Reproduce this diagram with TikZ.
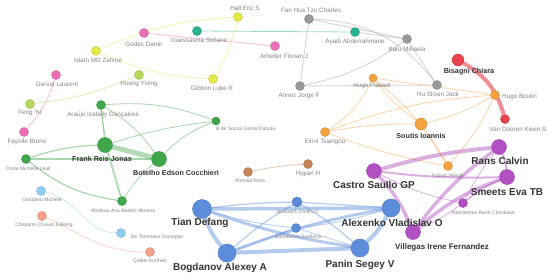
\documentclass[tikz,border=0pt]{standalone}
\usepackage{fontspec}
\setmainfont{Liberation Sans}
\usetikzlibrary{backgrounds}
\definecolor{cblue}{HTML}{5B8DDB}
\definecolor{cpurple}{HTML}{B24FC2}
\definecolor{cgreen}{HTML}{3FA64A}
\definecolor{corange}{HTML}{F6A23F}
\definecolor{cred}{HTML}{E9424C}
\definecolor{cgray}{HTML}{9A9A9A}
\definecolor{cteal}{HTML}{26B38E}
\definecolor{cyellow}{HTML}{E4EA48}
\definecolor{cygreen}{HTML}{B3D95A}
\definecolor{cpink}{HTML}{EE6DB8}
\definecolor{clblue}{HTML}{8DCFF2}
\definecolor{csalmon}{HTML}{F5A088}
\definecolor{cbrown}{HTML}{C6865A}
\definecolor{labgray}{HTML}{858585}
\definecolor{dark}{HTML}{333333}
\begin{document}
\begin{tikzpicture}[x=1pt,y=1pt,
  nd/.style={circle,inner sep=0pt,fill=#1,draw=#1!85!black,line width=0.4pt},
  lb/.style={text=labgray,font=\fontsize{6.3}{7}\selectfont,inner sep=0pt},
  lbs/.style={text=labgray,font=\fontsize{5}{6}\selectfont,inner sep=0pt},
  lbb/.style={text=dark,font=\fontsize{7.2}{8}\selectfont\bfseries,inner sep=0pt},
  lbl/.style={text=dark,font=\fontsize{10}{11}\selectfont\bfseries,inner sep=0pt},
  lbm/.style={text=dark,font=\fontsize{8}{9}\selectfont\bfseries,inner sep=0pt},
  ed/.style={draw=#1,draw opacity=0.45,line width=0.8pt},
]
\useasboundingbox (0,0) rectangle (550,-279);
% ---- nodes ----
\node[nd=cyellow,minimum size=9] (hall) at (238,-17) {};
\node[nd=cpink,minimum size=9] (godec) at (144,-33) {};
\node[nd=cteal,minimum size=9] (oues) at (197,-31) {};
\node[nd=cpink,minimum size=9] (arb) at (275,-46) {};
\node[nd=cyellow,minimum size=9] (islam) at (96,-51) {};
\node[nd=cpink,minimum size=9] (gervat) at (56,-75) {};
\node[nd=cygreen,minimum size=9] (huang) at (139,-75) {};
\node[nd=cyellow,minimum size=9] (gibbon) at (213,-79) {};
\node[nd=cygreen,minimum size=9] (feng) at (30,-104) {};
\node[nd=cgreen,minimum size=9] (araujo) at (101,-105) {};
\node[nd=cgreen,minimum size=8] (desouza) at (216,-121) {};
\node[nd=cpink,minimum size=9] (fayolle) at (24,-132) {};
\node[nd=cgray,minimum size=9] (fan) at (309,-19) {};
\node[nd=cteal,minimum size=9] (ayadi) at (355,-32) {};
\node[nd=cgray,minimum size=9] (baru) at (407,-39) {};
\node[nd=cgray,minimum size=9] (annez) at (300,-86) {};
\node[nd=cgray,minimum size=9] (hushi) at (437,-85) {};
\node[nd=corange,minimum size=8] (plassot) at (373,-78) {};
\node[nd=corange,minimum size=9] (boutin) at (495,-95) {};
\node[nd=corange,minimum size=12] (soutis) at (421,-124) {};
\node[nd=corange,minimum size=9] (eirini) at (325,-132) {};
\node[nd=corange,minimum size=9] (fabian) at (448,-166) {};
\node[nd=cred,minimum size=12] (bisagni) at (458,-60) {};
\node[nd=cred,minimum size=9] (vandooren) at (505,-119) {};
\node[nd=cbrown,minimum size=9] (ahmadi) at (248,-172) {};
\node[nd=cbrown,minimum size=9] (higian) at (308,-164) {};
\node[nd=cgreen,minimum size=15] (frank) at (105,-145) {};
\node[nd=cgreen,minimum size=9] (costa) at (26,-159) {};
\node[nd=cgreen,minimum size=15] (botelho) at (159,-159) {};
\node[nd=cgreen,minimum size=9] (abrahao) at (122,-201) {};
\node[nd=clblue,minimum size=9] (giordano) at (41,-191) {};
\node[nd=clblue,minimum size=9] (detom) at (121,-233) {};
\node[nd=csalmon,minimum size=9] (chaparro) at (42,-216) {};
\node[nd=csalmon,minimum size=9] (celebi) at (150,-252) {};
\node[nd=cblue,minimum size=19] (tian) at (202,-209) {};
\node[nd=cblue,minimum size=18] (bogdanov) at (227,-253) {};
\node[nd=cblue,minimum size=10] (budovich) at (297,-202) {};
\node[nd=cblue,minimum size=9] (bashk) at (296,-228) {};
\node[nd=cblue,minimum size=18] (alexenko) at (391,-208) {};
\node[nd=cblue,minimum size=18] (panin) at (360,-248) {};
\node[nd=cpurple,minimum size=15] (castro) at (374,-171) {};
\node[nd=cpurple,minimum size=15] (rans) at (499,-147) {};
\node[nd=cpurple,minimum size=15] (smeets) at (507,-177) {};
\node[nd=cpurple,minimum size=9] (alder) at (463,-203) {};
\node[nd=cpurple,minimum size=15] (villegas) at (413,-232) {};
% ---- labels ----
\node[lb] (lhall) at (245,-8) {Hall Eric S};
\node[lb] (lgodec) at (144,-44) {Godec Damir};
\node[lb] (loues) at (199,-40) {Ouessasma Sofiane};
\node[lb] (larb) at (284,-56) {Arbeiter Florian J};
\node[lb] (lislam) at (98,-60) {Islam MD Zahirul};
\node[lb] (lgervat) at (57,-84) {Gervat Laurent};
\node[lb] (lhuang) at (139,-84) {Huang Yixing};
\node[lb] (lgibbon) at (212,-88) {Gibbon Luke R};
\node[lb] (lfeng) at (30,-113) {Feng Yu};
\node[lb] (laraujo) at (103,-115) {Araújo Izabely Gonçalves};
\node[lbs,anchor=west] (ldesouza) at (216,-129) {B de Souza Samia Danuta};
\node[lb] (lfayolle) at (27,-142) {Fayolle Bruno};
\node[lb] (lfan) at (311,-10) {Fan Hua Tzu Charles};
\node[lb] (layadi) at (355,-42) {Ayadi Abderrahmane};
\node[lb] (lbaru) at (407,-49) {Baru Mihaela};
\node[lb] (lannez) at (299,-96) {Annez Jorge F};
\node[lb] (lhushi) at (438,-94) {Hu Shixin Jack};
\node[lb] (lplassot) at (372,-86) {Hugo Plassot};
\node[lb,anchor=west] (lboutin) at (502,-97) {Hugo Boutin};
\node[lbb] (lsoutis) at (421,-136) {Soutis Ioannis};
\node[lb] (leirini) at (325,-142) {Eirini Tsiangou};
\node[lbs] (lfabian) at (448,-176) {Fabian Weigle};
\node[lbb] (lbisagni) at (469,-72) {Bisagni Chiara};
\node[lb] (lvandooren) at (518,-129) {Van Dooren Kevin S};
\node[lbs] (lahmadi) at (250,-181) {Ahmadi Reza};
\node[lb] (lhigian) at (308,-174) {Higian H};
\node[lbb] (lfrank) at (102,-159) {Frank Reis Jonas};
\node[lbs] (lcosta) at (28,-169) {Costa Michelle Leali};
\node[lbb] (lbotelho) at (176,-173) {Botelho Edson Cocchieri};
\node[lbs] (labrahao) at (123,-211) {Abrahao Ana Beatriz Moreira};
\node[lbs] (lgiordano) at (42,-200) {Giordano Michele};
\node[lbs] (ldetom) at (157,-237) {De Tommaso Giuseppe};
\node[lbs] (lchaparro) at (44,-225) {Chaparro-Chavez Edwing};
\node[lbs] (lcelebi) at (150,-261) {Çelebi Kurthan};
\node[lbl] (ltian) at (200,-223) {Tian Defang};
\node[lbl] (lbogdanov) at (220,-268) {Bogdanov Alexey A};
\node[lbs] (lbudovich) at (298,-212) {Budovich Dmitry O};
\node[lbs] (lbashk) at (298,-237) {Bashkireva Svetlana};
\node[lbl] (lalexenko) at (392,-223) {Alexenko Vladislav O};
\node[lbl] (lpanin) at (360,-265) {Panin Segey V};
\node[lbl] (lcastro) at (374,-185) {Castro Saullo GP};
\node[lbl] (lrans) at (500,-161) {Rans Calvin};
\node[lbl] (lsmeets) at (507,-192) {Smeets Eva TB};
\node[lbs] (lalder) at (483,-213) {Alderliesten René Christiaan};
\node[lbm] (lvillegas) at (442,-247) {Villegas Irene Fernandez};
% ---- edges ----
\begin{scope}[on background layer]
\fill[white] (0,0) rectangle (550,-279);
% yellow / pink / teal
\draw[ed=cyellow] (islam) to[bend left=10] (hall);
\draw[ed=cyellow] (islam) to[bend right=10] (gibbon);
\draw[ed=cyellow] (hall) to[bend left=8] (gibbon);
\draw[ed=cygreen] (feng) to[bend right=8] (huang);
\draw[ed=cpink] (godec) -- (arb);
\draw[ed=cpink] (gervat) to[bend left=12] (fayolle);
\draw[ed=cteal] (oues) -- (ayadi);
% gray
\draw[ed=cgray] (fan) -- (annez);
\draw[ed=cgray] (fan) -- (baru);
\draw[ed=cgray] (fan) to[bend left=25] (hushi);
\draw[ed=cgray] (ayadi) -- (baru);
\draw[ed=cgray] (baru) -- (hushi);
\draw[ed=cgray] (annez) to[bend right=12] (baru);
\draw[ed=cgray] (annez) -- (hushi);
% orange
\draw[ed=corange] (plassot) to[bend left=15] (eirini);
\draw[ed=corange] (plassot) to[bend right=8] (soutis);
\draw[ed=corange] (plassot) -- (boutin);
\draw[ed=corange] (plassot) to[bend left=10] (fabian);
\draw[ed=corange] (eirini) to[bend left=5] (soutis);
\draw[ed=corange] (eirini) to[bend left=8] (boutin);
\draw[ed=corange] (eirini) to[bend right=5] (fabian);
\draw[ed=corange] (soutis) to[bend right=8] (boutin);
\draw[ed=corange] (soutis) -- (fabian);
\draw[ed=corange] (boutin) to[bend left=8] (fabian);
% red
\draw[ed=cred,line width=4pt,draw opacity=0.6] (bisagni) to[bend left=22] (vandooren);
% brown, light blue, salmon
\draw[ed=cbrown] (ahmadi) to[bend left=4] (higian);
\draw[ed=clblue] (giordano) .. controls (80,-200) and (85,-233) .. (detom);
\draw[ed=csalmon] (chaparro) .. controls (75,-230) and (100,-252) .. (celebi);
% green
\draw[ed=cgreen,line width=5pt,draw opacity=0.4] (frank) -- (botelho);
\draw[ed=cgreen,line width=1.2pt] (costa) to[bend left=8] (frank);
\draw[ed=cgreen,line width=1.2pt] (costa) -- (botelho);
\draw[ed=cgreen,line width=1.2pt] (costa) to[bend right=15] (abrahao);
\draw[ed=cgreen] (frank) -- (araujo);
\draw[ed=cgreen] (frank) to[bend left=3] (abrahao);
\draw[ed=cgreen] (frank) to[bend left=5] (desouza);
\draw[ed=cgreen] (araujo) to[bend left=12] (desouza);
\draw[ed=cgreen] (araujo) to[bend left=12] (botelho);
\draw[ed=cgreen] (botelho) to[bend left=12] (desouza);
\draw[ed=cgreen] (botelho) to[bend right=8] (abrahao);
\draw[ed=cgreen] (araujo) to[bend right=6] (abrahao);
% blue
\draw[ed=cblue,line width=4pt] (tian) to[bend right=10] (bogdanov);
\draw[ed=cblue,line width=3.5pt] (tian) -- (alexenko);
\draw[ed=cblue,line width=3pt] (tian) to[bend right=5] (panin);
\draw[ed=cblue,line width=4pt] (bogdanov) -- (panin);
\draw[ed=cblue,line width=3pt] (bogdanov) to[bend left=5] (alexenko);
\draw[ed=cblue,line width=4pt] (panin) to[bend right=10] (alexenko);
\draw[ed=cblue,line width=1.2pt] (budovich) to[bend right=3] (tian);
\draw[ed=cblue,line width=1.2pt] (budovich) to[bend right=5] (bogdanov);
\draw[ed=cblue,line width=1.2pt] (budovich) -- (alexenko);
\draw[ed=cblue,line width=1.2pt] (budovich) to[bend left=5] (panin);
\draw[ed=cblue] (bashk) to[bend left=5] (tian);
\draw[ed=cblue] (bashk) -- (bogdanov);
\draw[ed=cblue] (bashk) to[bend right=5] (alexenko);
\draw[ed=cblue] (bashk) -- (panin);
% purple
\draw[ed=cpurple,line width=4pt] (castro) to[bend left=5] (rans);
\draw[ed=cpurple,line width=2pt] (castro) to[bend right=4] (smeets);
\draw[ed=cpurple,line width=3.5pt] (castro) to[bend left=10] (villegas);
\draw[ed=cpurple] (castro) to[bend right=8] (alder);
\draw[ed=cpurple,line width=3.5pt] (rans) to[bend right=8] (villegas);
\draw[ed=cpurple,line width=3.5pt] (smeets) to[bend right=10] (villegas);
\draw[ed=cpurple,line width=2pt] (rans) to[bend left=10] (smeets);
\draw[ed=cpurple] (rans) to[bend right=5] (alder);
\draw[ed=cpurple,line width=1.5pt] (smeets) to[bend right=8] (alder);
\draw[ed=cpurple] (villegas) to[bend right=5] (alder);
\end{scope}
\end{tikzpicture}
\end{document}
